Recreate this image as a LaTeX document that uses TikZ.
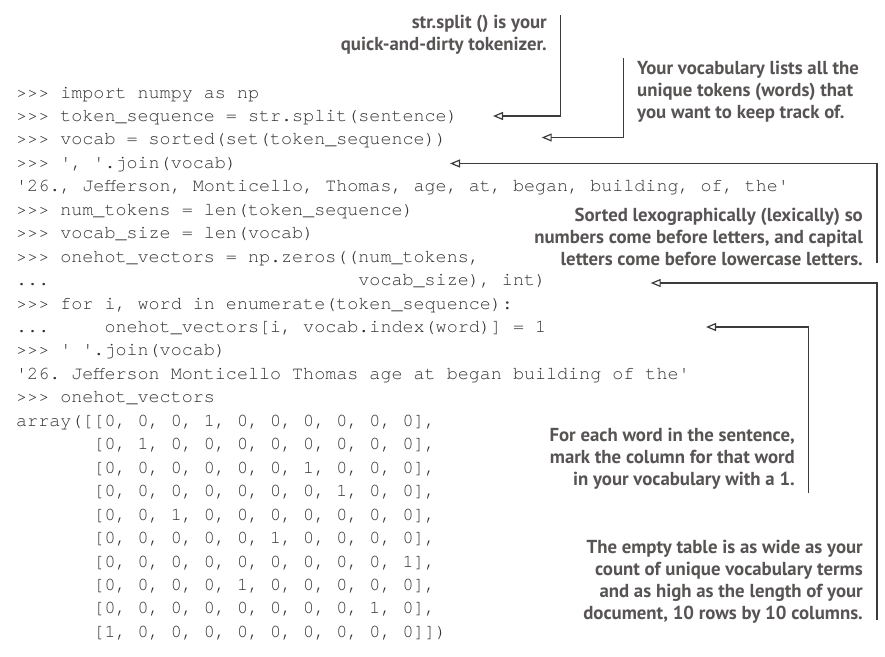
\documentclass[tikz,border=0pt]{standalone}
\usepackage{fontspec}
\setmonofont{TeX Gyre Cursor}
\newfontfamily\annfont{PT Sans}
\usetikzlibrary{arrows.meta}
\definecolor{codec}{RGB}{50,50,50}
\definecolor{annc}{RGB}{88,84,84}
\definecolor{linec}{RGB}{60,60,60}
\tikzset{
  codeline/.style={anchor=base west, inner sep=0pt, text=codec,
    font=\ttfamily\fontsize{18.4}{22}\selectfont},
  note/.style={anchor=north east, inner sep=0pt, align=right, text=annc,
    font=\annfont\bfseries\fontsize{18.8}{22}\selectfont},
  notel/.style={note, anchor=north west, align=left},
  callout/.style={draw=linec, line width=1.2pt,
    -{Triangle[length=10pt, width=8pt, fill=white]}}
}
\frenchspacing
\begin{document}
\begin{tikzpicture}[x=1pt,y=-1pt]
\fill[white] (0,0) rectangle (885,656);
\useasboundingbox (0,0) rectangle (885,656);
% code
\node[codeline] (c0)  at (16,98)     {>>> import numpy as np};
\node[codeline] (c1)  at (16,121.45) {>>> token\_sequence = str.split(sentence)};
\node[codeline] (c2)  at (16,144.9)  {>>> vocab = sorted(set(token\_sequence))};
\node[codeline] (c3)  at (16,168.35) {>>> ', '.join(vocab)};
\node[codeline] (c4)  at (16,191.8)  {'26., Jefferson, Monticello, Thomas, age, at, began, building, of, the'};
\node[codeline] (c5)  at (16,215.25) {>>> num\_tokens = len(token\_sequence)};
\node[codeline] (c6)  at (16,238.7)  {>>> vocab\_size = len(vocab)};
\node[codeline] (c7)  at (16,262.15) {>>> onehot\_vectors = np.zeros((num\_tokens,};
\node[codeline] (c8)  at (16,285.6)  {...~~~~~~~~~~~~~~~~~~~~~~~~~~~~vocab\_size), int)};
\node[codeline] (c9)  at (16,309.05) {>>> for i, word in enumerate(token\_sequence):};
\node[codeline] (c10) at (16,332.5)  {...~~~~~onehot\_vectors[i, vocab.index(word)] = 1};
\node[codeline] (c11) at (16,355.95) {>>> ' '.join(vocab)};
\node[codeline] (c12) at (16,379.4)  {'26. Jefferson Monticello Thomas age at began building of the'};
\node[codeline] (c13) at (16,402.85) {>>> onehot\_vectors};
\node[codeline] (c14) at (16,426.3)  {array([[0, 0, 0, 1, 0, 0, 0, 0, 0, 0],};
\node[codeline] (c15) at (16,449.75) {~~~~~~~[0, 1, 0, 0, 0, 0, 0, 0, 0, 0],};
\node[codeline] (c16) at (16,473.2)  {~~~~~~~[0, 0, 0, 0, 0, 0, 1, 0, 0, 0],};
\node[codeline] (c17) at (16,496.65) {~~~~~~~[0, 0, 0, 0, 0, 0, 0, 1, 0, 0],};
\node[codeline] (c18) at (16,520.1)  {~~~~~~~[0, 0, 1, 0, 0, 0, 0, 0, 0, 0],};
\node[codeline] (c19) at (16,543.55) {~~~~~~~[0, 0, 0, 0, 0, 1, 0, 0, 0, 0],};
\node[codeline] (c20) at (16,567)    {~~~~~~~[0, 0, 0, 0, 0, 0, 0, 0, 0, 1],};
\node[codeline] (c21) at (16,590.45) {~~~~~~~[0, 0, 0, 0, 1, 0, 0, 0, 0, 0],};
\node[codeline] (c22) at (16,613.9)  {~~~~~~~[0, 0, 0, 0, 0, 0, 0, 0, 1, 0],};
\node[codeline] (c23) at (16,637.35) {~~~~~~~[1, 0, 0, 0, 0, 0, 0, 0, 0, 0]])};
% notes
\node[note]  (n1) at (547,13)  {\rule{0pt}{15pt}str.split () is your\\quick-and-dirty tokenizer.};
\node[notel] (n2) at (637,59)  {\rule{0pt}{15pt}Your vocabulary lists all the\\unique tokens (words) that\\you want to keep track of.};
\node[note]  (n3) at (863,206) {\rule{0pt}{15pt}Sorted lexographically (lexically) so\\numbers come before letters, and capital\\letters come before lowercase letters.};
\node[note]  (n4) at (795,426) {\rule{0pt}{15pt}For each word in the sentence,\\mark the column for that word\\in your vocabulary with a 1.};
\node[note]  (n5) at (863,538) {\rule{0pt}{15pt}The empty table is as wide as your\\count of unique vocabulary terms\\and as high as the length of your\\document, 10 rows by 10 columns.};
% connector ends
\coordinate (a1s) at (560.7,15);
\coordinate (a1t) at (493,116);
\coordinate (a2s) at (623.7,58);
\coordinate (a2t) at (541.7,137.5);
\coordinate (a3s) at (877,263);
\coordinate (a3t) at (450,163.5);
\coordinate (a4s) at (877,620);
\coordinate (a4t) at (650.7,283);
\coordinate (a5s) at (808.5,493);
\coordinate (a5t) at (706,327);
\draw[callout] (a1s) |- (a1t);
\draw[callout] (a2s) |- (a2t);
\draw[callout] (a3s) |- (a3t);
\draw[callout] (a4s) |- (a4t);
\draw[callout] (a5s) |- (a5t);
\end{tikzpicture}
\end{document}
